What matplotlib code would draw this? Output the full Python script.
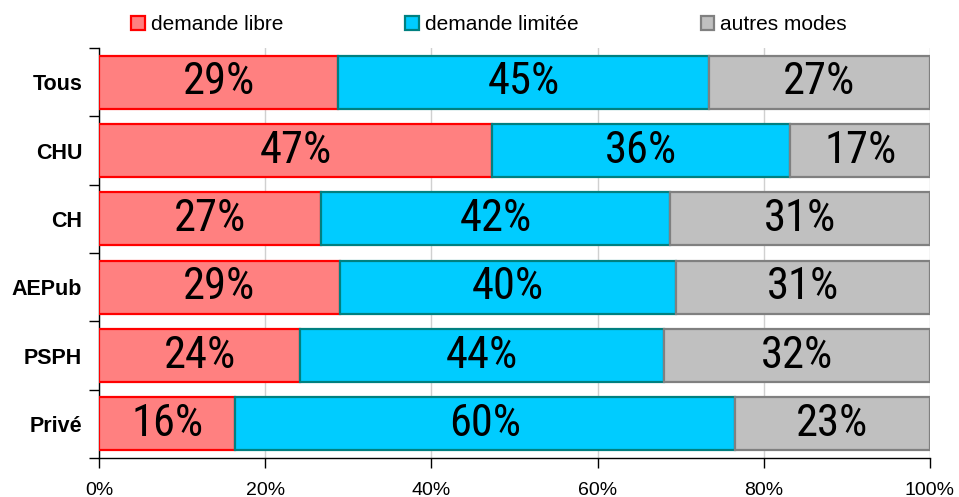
import matplotlib
matplotlib.use("Agg")
import matplotlib.pyplot as plt
from matplotlib.patches import Patch
from matplotlib import font_manager as fm
import numpy as np

categories = ["Tous", "CHU", "CH", "AEPub", "PSPH", "Privé"]
libre = [28.8, 47.3, 26.7, 29.0, 24.2, 16.4]
limitee = [44.6, 35.9, 42.0, 40.4, 43.8, 60.1]
autres = [26.6, 16.8, 31.3, 30.6, 32.0, 23.5]
labels_libre = ["29%", "47%", "27%", "29%", "24%", "16%"]
labels_limitee = ["45%", "36%", "42%", "40%", "44%", "60%"]
labels_autres = ["27%", "17%", "31%", "31%", "32%", "23%"]
series_names = ["demande libre", "demande limitée", "autres modes"]
xticks = [0, 20, 40, 60, 80, 100]
xticklabels = ["0%", "20%", "40%", "60%", "80%", "100%"]

fills = ["#FF8080", "#00CCFF", "#C0C0C0"]
edges = ["#FF0000", "#008080", "#808080"]


def pick_narrow():
    cands = []
    for f in fm.fontManager.ttflist:
        nm = f.name.lower()
        fn = f.fname.lower()
        st = str(f.stretch).lower()
        if f.weight not in ("normal", 400, "regular", "book"):
            continue
        if f.style != "normal":
            continue
        if ("narrow" in nm or "narrow" in fn or "condensed" in nm or "condensed" in fn
                or st in ("condensed", "semi-condensed", "extra-condensed")):
            if "liberation" in fn and "narrow" in fn:
                score = 5
            elif "roboto" in fn:
                score = 4
            elif "opensans" in fn or "open sans" in nm:
                score = 3
            elif "dejavu" in fn and "sans" in fn and "mono" not in fn:
                score = 2
            else:
                score = 1
            cands.append((score, f.fname))
    if cands:
        cands.sort(reverse=True)
        return fm.FontProperties(fname=cands[0][1])
    return fm.FontProperties(family="Roboto")


narrow_fp = pick_narrow()
plt.rcParams["font.family"] = ["Liberation Sans", "DejaVu Sans"]

fig = plt.figure(figsize=(9.59, 4.97), dpi=100)
ax = fig.add_axes([99/959, 39/497, 831/959, 410/497])

y = np.arange(len(categories))
left = np.zeros(len(categories))
for vals, labs, fc, ec in zip([libre, limitee, autres],
                              [labels_libre, labels_limitee, labels_autres],
                              fills, edges):
    vals = np.array(vals)
    ax.barh(y, vals, left=left, height=0.78, color=fc, edgecolor=ec,
            linewidth=1.6, zorder=3)
    for yi, l, v, t in zip(y, left, vals, labs):
        ax.text(l + v / 2, yi, t, ha="center", va="center",
                fontproperties=narrow_fp, fontsize=32, color="black", zorder=4)
    left = left + vals

ax.set_xlim(0, 100)
ax.set_ylim(len(categories) - 0.5, -0.5)
ax.set_xticks(xticks)
ax.set_xticklabels(xticklabels, fontsize=14)
ax.set_yticks(y)
ax.set_yticklabels(categories, fontsize=15.5, fontweight="bold")
ax.set_yticks(np.arange(-0.5, len(categories) + 0.5, 1), minor=True)
ax.tick_params(axis="y", which="major", length=0, pad=12)
ax.tick_params(axis="y", which="minor", length=7, width=1, direction="out")
ax.tick_params(axis="x", which="major", length=7, width=1, direction="out", pad=10)
ax.grid(axis="x", color="#D0D0D0", linewidth=1, zorder=0)
for s in ["top", "right"]:
    ax.spines[s].set_visible(False)
for s in ["left", "bottom"]:
    ax.spines[s].set_color("black")
    ax.spines[s].set_linewidth(1)

handles = [Patch(facecolor=fc, edgecolor=ec, linewidth=1.6) for fc, ec in zip(fills, edges)]
fig.legend(handles, series_names, loc="center", bbox_to_anchor=(0.51, 0.95),
           ncol=3, frameon=False, fontsize=15, handlelength=0.65, handleheight=0.65,
           handletextpad=0.3, columnspacing=5.85)

fig.savefig("out.png", dpi=100)
